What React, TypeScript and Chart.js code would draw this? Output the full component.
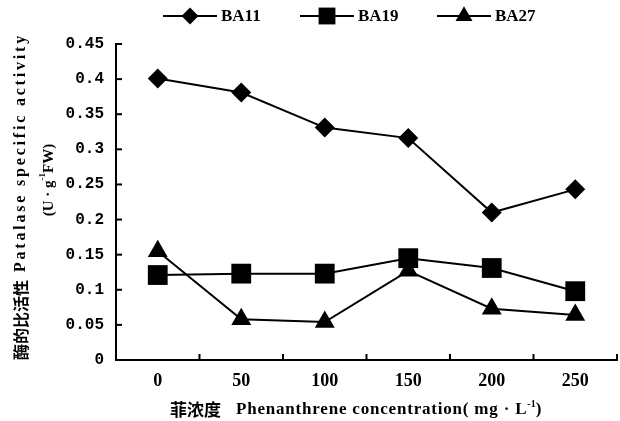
import React, { useEffect, useRef } from "react";
import { Chart, registerables } from "chart.js";

Chart.register(...registerables);

const categories = ["0", "50", "100", "150", "200", "250"];
const seriesNames = ["BA11", "BA19", "BA27"];
const ba11 = [0.401, 0.381, 0.331, 0.316, 0.21, 0.243];
const ba19 = [0.121, 0.123, 0.123, 0.145, 0.131, 0.098];
const ba27 = [0.155, 0.058, 0.054, 0.127, 0.073, 0.064];
const yTicksMax = 0.45;
const yStep = 0.05;
const yTitleCn = "酶的比活性";
const yTitleEn = "Patalase specific activity";
const xTitleCn = "菲浓度";
const xTitleEn = "Phenanthrene concentration( mg · L";

const FONT = "'Liberation Serif', 'Times New Roman', serif";
const MONO = "'Liberation Mono', monospace";
const CJK = "'Noto Sans CJK SC', sans-serif";

const styles = [
  { pointStyle: "rectRot", radius: 10 },
  { pointStyle: "rect", radius: 14 },
  { pointStyle: "triangle", radius: 11.5 },
];

function drawMarker(ctx: CanvasRenderingContext2D, style: string, x: number, y: number, r: number) {
  ctx.beginPath();
  if (style === "rectRot") {
    ctx.moveTo(x - r, y);
    ctx.lineTo(x, y - r);
    ctx.lineTo(x + r, y);
    ctx.lineTo(x, y + r);
  } else if (style === "rect") {
    const s = r * Math.SQRT1_2;
    ctx.rect(x - s, y - s, 2 * s, 2 * s);
  } else {
    ctx.moveTo(x, y - r);
    ctx.lineTo(x + r * 0.866, y + r * 0.5);
    ctx.lineTo(x - r * 0.866, y + r * 0.5);
  }
  ctx.closePath();
  ctx.fill();
}

const decorPlugin = {
  id: "decor",
  afterDraw(chart: any) {
    const ctx: any = chart.ctx;
    const xs = chart.scales.x;
    const ys = chart.scales.y;
    const area = chart.chartArea;
    ctx.save();
    ctx.strokeStyle = "#000";
    ctx.fillStyle = "#000";
    ctx.lineWidth = 2;
    // inward y ticks
    ys.ticks.forEach((t: any, i: number) => {
      const py = ys.getPixelForTick(i);
      ctx.beginPath();
      ctx.moveTo(area.left, py);
      ctx.lineTo(area.left + 6, py);
      ctx.stroke();
    });
    // inward x ticks at category boundaries
    const n = categories.length;
    for (let i = 1; i <= n; i++) {
      const px = xs.left + (i * (xs.right - xs.left)) / n;
      ctx.beginPath();
      ctx.moveTo(px, area.bottom);
      ctx.lineTo(px, area.bottom - 6);
      ctx.stroke();
    }
    // legend
    const legendY = 16;
    const legendX = [163, 300, 437];
    chart.data.datasets.forEach((ds: any, i: number) => {
      const x0 = legendX[i];
      ctx.lineWidth = 2;
      ctx.beginPath();
      ctx.moveTo(x0, legendY);
      ctx.lineTo(x0 + 54, legendY);
      ctx.stroke();
      drawMarker(ctx, styles[i].pointStyle, x0 + 27, legendY, styles[i].radius * 0.85);
      ctx.font = "bold 17px " + FONT;
      ctx.textBaseline = "middle";
      ctx.textAlign = "left";
      ctx.fillText(ds.label, x0 + 58, legendY + 1);
    });
    // x title
    const xTitleY = 410;
    ctx.textBaseline = "middle";
    ctx.textAlign = "left";
    let cx = 170;
    ctx.font = "bold 17px " + CJK;
    ctx.fillText(xTitleCn, cx, xTitleY);
    cx = 236;
    ctx.font = "bold 17px " + FONT;
    ctx.letterSpacing = "0.8px";
    ctx.fillText(xTitleEn, cx, xTitleY);
    cx += ctx.measureText(xTitleEn).width;
    ctx.letterSpacing = "0px";
    ctx.font = "bold 10px " + FONT;
    ctx.fillText("-1", cx, xTitleY - 6);
    cx += ctx.measureText("-1").width;
    ctx.font = "bold 17px " + FONT;
    ctx.fillText(")", cx, xTitleY);
    // y title line 1 (drawn bottom-to-top)
    ctx.save();
    ctx.translate(21, 360);
    ctx.rotate(-Math.PI / 2);
    ctx.textAlign = "left";
    ctx.textBaseline = "middle";
    ctx.font = "bold 16px " + CJK;
    ctx.letterSpacing = "0px";
    ctx.fillText(yTitleCn, 0, 0);
    const cnw = ctx.measureText(yTitleCn).width;
    ctx.font = "bold 16px " + FONT;
    const startEn = cnw + 8;
    const targetEn = 360 - 33 - startEn;
    const natural = ctx.measureText(yTitleEn).width;
    const spacing = Math.max(0, (targetEn - natural) / yTitleEn.length);
    ctx.letterSpacing = spacing.toFixed(2) + "px";
    ctx.fillText(yTitleEn, startEn, 0);
    ctx.letterSpacing = "0px";
    ctx.restore();
    // y title line 2: (U · g-1FW)
    ctx.save();
    ctx.translate(49, 180);
    ctx.rotate(-Math.PI / 2);
    ctx.textBaseline = "middle";
    ctx.font = "bold 15px " + FONT;
    const a = "(U · g";
    const b = "FW)";
    const aw = ctx.measureText(a).width;
    const bw = ctx.measureText(b).width;
    ctx.font = "bold 9px " + FONT;
    const sw = ctx.measureText("-1").width;
    let lx = -(aw + sw + bw) / 2;
    ctx.textAlign = "left";
    ctx.font = "bold 15px " + FONT;
    ctx.fillText(a, lx, 0);
    lx += aw;
    ctx.font = "bold 9px " + FONT;
    ctx.fillText("-1", lx, -6);
    lx += sw;
    ctx.font = "bold 15px " + FONT;
    ctx.fillText(b, lx, 0);
    ctx.restore();
    ctx.restore();
  },
};

export default function App() {
  const ref = useRef<HTMLCanvasElement>(null);
  useEffect(() => {
    document.body.style.margin = "0";
    const canvas = ref.current!;
    const mk = (label: string, data: number[], i: number) => ({
      label,
      data,
      borderColor: "#000",
      backgroundColor: "#000",
      borderWidth: 2,
      pointStyle: styles[i].pointStyle,
      pointRadius: styles[i].radius,
      pointBackgroundColor: "#000",
      pointBorderColor: "#000",
      pointBorderWidth: 0,
      tension: 0,
      fill: false,
    });
    const chart = new Chart(canvas, {
      type: "line",
      data: {
        labels: categories,
        datasets: [mk(seriesNames[0], ba11, 0), mk(seriesNames[1], ba19, 1), mk(seriesNames[2], ba27, 2)],
      },
      options: {
        animation: false,
        responsive: false,
        maintainAspectRatio: false,
        layout: { autoPadding: false, padding: { left: 0, top: 44, right: 3, bottom: 0 } },
        plugins: { legend: { display: false }, tooltip: { enabled: false } },
        scales: {
          x: {
            type: "category",
            offset: true,
            grid: { display: true, drawOnChartArea: false, drawTicks: false, color: "rgba(0,0,0,0)" },
            border: { display: true, color: "#000", width: 2 },
            ticks: { color: "#000", padding: 11, font: { family: FONT, size: 18, weight: "bold" }, maxRotation: 0 },
            afterFit: (s: any) => {
              s.height = 61;
              s.paddingLeft = 0;
              s.paddingRight = 0;
            },
          },
          y: {
            min: 0,
            max: yTicksMax,
            grid: { display: true, drawOnChartArea: false, drawTicks: false, color: "rgba(0,0,0,0)" },
            border: { display: true, color: "#000", width: 2 },
            ticks: {
              stepSize: yStep,
              color: "#000",
              padding: 12,
              font: { family: MONO, size: 16, weight: "bold" },
              callback: (v: any) => String(Number(Number(v).toFixed(2))),
            },
            afterFit: (s: any) => {
              s.width = 116;
              s.paddingTop = 0;
              s.paddingBottom = 0;
            },
          },
        },
      },
      plugins: [decorPlugin],
    } as any);
    return () => chart.destroy();
  }, []);
  return (
    <div style={{ width: 620, height: 421, background: "#fff" }}>
      <canvas ref={ref} width={620} height={421} style={{ display: "block" }} />
    </div>
  );
}
